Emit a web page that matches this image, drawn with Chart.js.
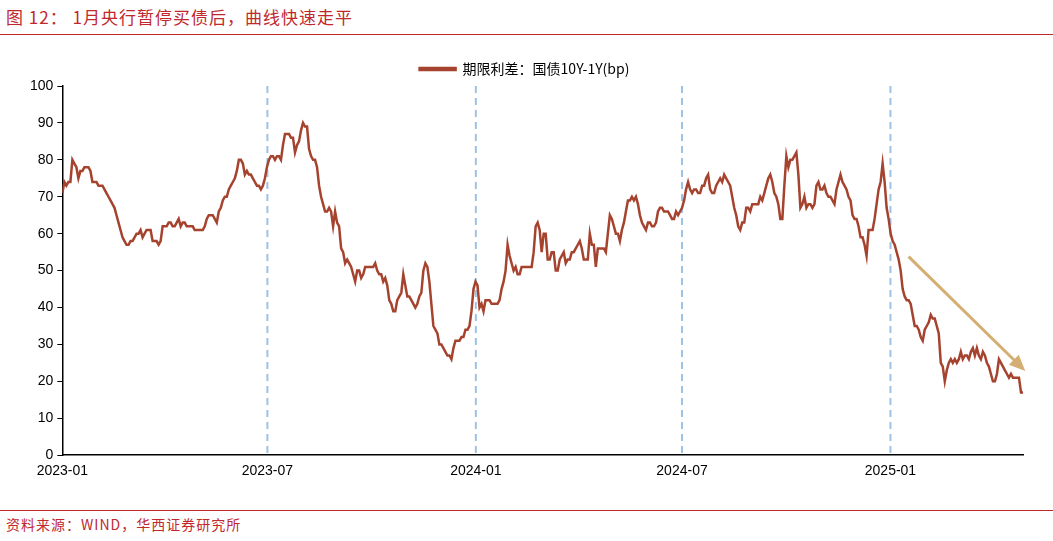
<!DOCTYPE html>
<html><head><meta charset="utf-8">
<script src="https://cdn.jsdelivr.net/npm/chart.js@4/dist/chart.umd.min.js"></script>
<style>
body{margin:0;background:#fff;width:1053px;height:541px;position:relative;overflow:hidden;font-family:"Noto Sans CJK SC","Noto Sans",sans-serif}
#title{position:absolute;left:6px;top:4px;font-size:17px;color:#c0282d;letter-spacing:1px}
#l1{position:absolute;left:0;top:34px;width:1053px;height:1px;background:#c0282d}
#l2{position:absolute;left:0;top:510px;width:1053px;height:1px;background:#c0282d}
#src{position:absolute;left:6px;top:514px;font-size:14px;color:#c0282d;letter-spacing:1px}
#wrap{position:absolute;left:0;top:48px;width:1053px;height:440px}
</style></head><body>
<div id="title">图 12： 1月央行暂停买债后，曲线快速走平</div>
<div id="l1"></div>
<div id="wrap"><canvas id="c"></canvas></div>
<div id="l2"></div>
<div id="src">资料来源：WIND，华西证券研究所</div>
<script>
const seriesName = "期限利差：国债10Y-1Y(bp)";
const startDate = "2023-01-01";
const endDay = 848; // last observation, days after start (~2025-04-27)
const spreadValues = [71,74,73,74,74,80,79,78,75,77,77,78,78,78,77,74,74,74,73,73,73,72,71,70,69,68,67,65,63,61,59,58,57,57,58,58,59,60,60,61,59,60,61,61,61,58,58,58,57,58,62,62,62,63,63,62,62,63,64,62,63,63,62,62,62,62,61,61,61,61,61,62,64,65,65,65,64,63,66,67,69,70,70,72,73,74,75,77,80,80,79,76,77,76,76,75,74,73,73,72,73,75,78,80,81,81,80,81,81,80,84,87,87,87,86,86,82,84,85,88,90,89,89,83,81,80,80,78,73,70,68,66,66,67,66,62,66,63,62,56,55,52,53,52,51,49,47,50,50,48,49,51,51,51,51,51,52,50,49,49,47,48,46,42,41,39,39,42,43,44,49,46,43,43,42,41,40,41,43,44,50,52,51,47,41,35,34,33,30,30,29,28,27,27,26,29,31,31,31,32,32,34,34,35,39,45,47,46,40,41,39,42,42,42,41,41,41,41,42,45,47,50,57,54,52,50,51,49,49,51,51,51,51,51,51,55,62,63,61,55,60,60,53,53,55,55,50,50,53,54,55,52,53,53,55,55,56,57,58,56,53,53,53,60,57,57,51,56,56,56,56,55,60,65,64,62,60,60,58,61,63,66,69,69,70,69,70,68,65,63,62,61,63,63,62,62,63,66,67,67,66,66,66,65,64,64,66,65,66,67,69,72,74,72,71,72,72,71,71,73,73,75,76,72,71,71,73,74,75,74,76,75,74,73,70,67,65,62,61,63,63,67,67,66,68,68,68,68,70,69,71,73,75,76,74,71,70,68,64,64,73,81,78,80,80,81,82,76,67,68,70,67,68,68,67,68,73,74,72,72,73,71,70,70,69,68,72,74,76,74,73,72,70,69,65,64,64,62,59,59,57,54,61,61,61,64,68,72,74,79,74,67,64,60,58,57,55,53,50,45,43,42,42,41,38,35,35,34,32,31,34,35,36,38,37,37,35,33,25,24,20,23,25,26,25,26,25,26,28,26,27,27,26,28,29,27,29,27,26,28,27,25,24,22,20,20,22,26,25,24,23,22,21,22,21,21,21,21,17,17];
const tickDays = [0,181,365,547,731];
const tickLabels = ["2023-01","2023-07","2024-01","2024-07","2025-01"];
const yTicks = [0,10,20,30,40,50,60,70,80,90,100];
const arrowFrom = {x:747, y:53.8};
const arrowTo = {x:850, y:22.8};

const n = spreadValues.length;
const points = spreadValues.map((v,i)=>({x: i*endDay/(n-1), y: v}));

const arrowPlugin = {id:'arrow', afterDatasetsDraw(chart){
  const {ctx, scales:{x,y}} = chart;
  const x1=x.getPixelForValue(arrowFrom.x), y1=y.getPixelForValue(arrowFrom.y);
  const x2=x.getPixelForValue(arrowTo.x), y2=y.getPixelForValue(arrowTo.y);
  const a=Math.atan2(y2-y1,x2-x1);
  ctx.save(); ctx.strokeStyle='#d4ae72'; ctx.fillStyle='#d4ae72'; ctx.lineWidth=3;
  ctx.beginPath(); ctx.moveTo(x1,y1); ctx.lineTo(x2-10*Math.cos(a),y2-10*Math.sin(a)); ctx.stroke();
  ctx.beginPath(); ctx.moveTo(x2,y2);
  ctx.lineTo(x2-16*Math.cos(a)+7*Math.sin(a), y2-16*Math.sin(a)-7*Math.cos(a));
  ctx.lineTo(x2-16*Math.cos(a)-7*Math.sin(a), y2-16*Math.sin(a)+7*Math.cos(a));
  ctx.closePath(); ctx.fill(); ctx.restore();
}};

new Chart(document.getElementById('c'), {
  type:'line',
  data:{datasets:[{label:seriesName, data:points, borderColor:'#a5432f', backgroundColor:'#a5432f', borderWidth:2.5, pointRadius:0, tension:0}]},
  options:{
    responsive:true, maintainAspectRatio:false, animation:false,
    layout:{padding:{left:26,right:30,top:0,bottom:0}},
    plugins:{legend:{labels:{boxWidth:36,boxHeight:2,padding:14,font:{size:14,family:"Noto Sans CJK SC"},color:'#000'}}, tooltip:{enabled:false}},
    scales:{
      x:{type:'linear', min:0, max:848, afterBuildTicks(s){s.ticks=tickDays.map(v=>({value:v}));},
        ticks:{autoSkip:false, maxRotation:0, color:'#000', padding:8, font:{size:14,family:"Liberation Sans"}, callback:(v)=>tickLabels[tickDays.indexOf(v)]},
        grid:{drawOnChartArea:false, color:'transparent', tickLength:0},
        border:{color:'#000', width:1.5}},
      y:{min:0,max:100, afterBuildTicks(s){s.ticks=yTicks.map(v=>({value:v}));},
        ticks:{color:'#000', font:{size:14,family:"Liberation Sans"}, padding:4},
        grid:{drawOnChartArea:false, color:'#000', tickLength:5},
        border:{color:'#000', width:1.5}}
    }
  },
  plugins:[arrowPlugin,{id:'dash',beforeDatasetsDraw(chart){
    const {ctx,scales:{x},chartArea:ca}=chart; ctx.save(); ctx.strokeStyle='#9cc3e6'; ctx.lineWidth=2; ctx.setLineDash([7,5]);
    tickDays.slice(1).forEach(d=>{const px=x.getPixelForValue(d); ctx.beginPath(); ctx.moveTo(px,ca.top); ctx.lineTo(px,ca.bottom); ctx.stroke();});
    ctx.restore();}}]
});
</script></body></html>
